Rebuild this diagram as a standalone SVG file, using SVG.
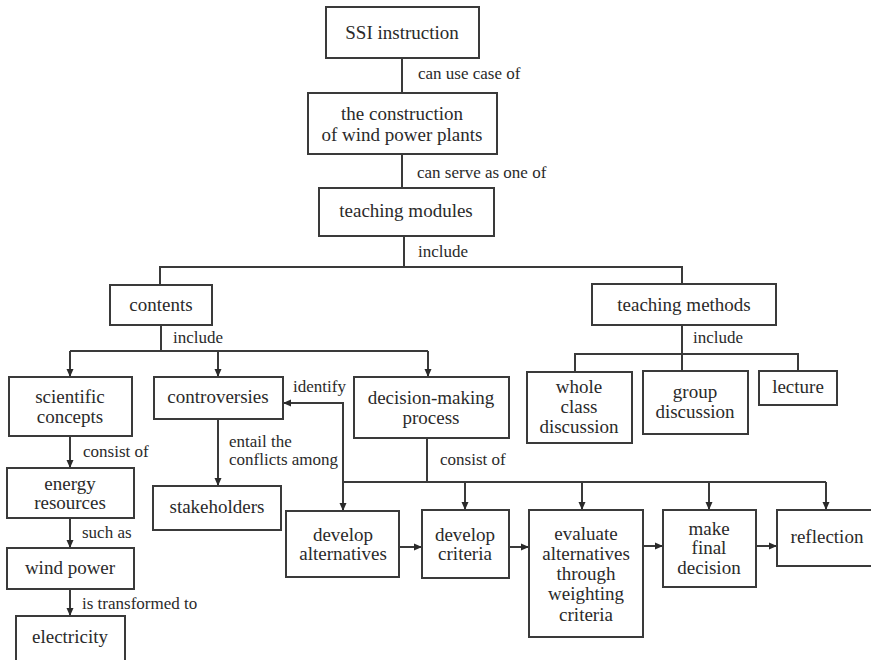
<svg xmlns="http://www.w3.org/2000/svg" width="871" height="660" viewBox="0 0 871 660">
<style>
.box{fill:#fff;stroke:#3a3a3a;stroke-width:2}
.t{font-family:"Liberation Serif","Times New Roman","DejaVu Serif",serif;font-size:19px;fill:#2a2a2a;text-anchor:middle}
.l{font-family:"Liberation Serif","Times New Roman","DejaVu Serif",serif;font-size:17px;fill:#2a2a2a}
.c{fill:none;stroke:#3a3a3a;stroke-width:2}
.a{fill:none;stroke:#3a3a3a;stroke-width:2;marker-end:url(#ah)}
</style>
<defs>
<marker id="ah" markerUnits="userSpaceOnUse" markerWidth="8" markerHeight="8" refX="8" refY="4" orient="auto">
<path d="M0,0.5 L8,4 L0,7.5 Z" fill="#2a2a2a"/>
</marker>
</defs>
<rect width="871" height="660" fill="#fff"/>
<g id="connectors">
<path class="c" d="M402,58V93"/>
<path class="c" d="M402,154V188"/>
<path class="c" d="M404,236V267M160,285V267H682V284"/>
<path class="c" d="M161,325V351M70,351H428"/>
<path class="a" d="M70,351V377"/>
<path class="a" d="M218,351V377"/>
<path class="a" d="M428,351V377"/>
<path class="c" d="M682,325V371M575,372V354H798V371"/>
<path class="a" d="M70,437V468"/>
<path class="a" d="M70,518V548"/>
<path class="a" d="M70,589V616"/>
<path class="a" d="M218,419V486"/>
<path class="c" d="M427,438V482M343,482H826"/>
<path class="a" d="M343,482V403H283"/>
<path class="a" d="M343,482V511"/>
<path class="a" d="M465,482V510"/>
<path class="a" d="M582,482V510"/>
<path class="a" d="M709,482V510"/>
<path class="a" d="M826,482V510"/>
<path class="a" d="M399,547H422"/>
<path class="a" d="M509,547H529"/>
<path class="a" d="M643,546H663"/>
<path class="a" d="M756,546H777"/>
<text class="l" x="418" y="79">can use case of</text>
<text class="l" x="417" y="178">can serve as one of</text>
<text class="l" x="418" y="257">include</text>
<text class="l" x="173" y="343">include</text>
<text class="l" x="693" y="343">include</text>
<text class="l" x="293" y="392">identify</text>
<text class="l" x="83" y="457">consist of</text>
<text class="l" x="82" y="538">such as</text>
<text class="l" x="82" y="609">is transformed to</text>
<text class="l" x="229" y="447">entail the</text>
<text class="l" x="229" y="465">conflicts among</text>
<text class="l" x="440" y="465">consist of</text>
</g>
<g id="ssi"><rect class="box" x="326" y="7" width="153" height="51"/><text class="t" x="402" y="39">SSI instruction</text></g>
<g id="construction"><rect class="box" x="308" y="93" width="189" height="61"/><text class="t" x="402" y="120">the construction</text><text class="t" x="402" y="141">of wind power plants</text></g>
<g id="modules"><rect class="box" x="319" y="188" width="175" height="48"/><text class="t" x="406" y="217">teaching modules</text></g>
<g id="contents"><rect class="box" x="110" y="285" width="102" height="40"/><text class="t" x="161" y="311">contents</text></g>
<g id="methods"><rect class="box" x="592" y="284" width="184" height="41"/><text class="t" x="684" y="311">teaching methods</text></g>
<g id="scientific"><rect class="box" x="9" y="377" width="123" height="59"/><text class="t" x="70" y="403">scientific</text><text class="t" x="70" y="423">concepts</text></g>
<g id="controversies"><rect class="box" x="154" y="377" width="129" height="42"/><text class="t" x="218" y="403">controversies</text></g>
<g id="decision"><rect class="box" x="354" y="377" width="155" height="61"/><text class="t" x="431" y="404">decision-making</text><text class="t" x="431" y="424">process</text></g>
<g id="wholeclass"><rect class="box" x="527" y="372" width="105" height="71"/><text class="t" x="579" y="393">whole</text><text class="t" x="579" y="413">class</text><text class="t" x="579" y="433">discussion</text></g>
<g id="group"><rect class="box" x="643" y="371" width="105" height="63"/><text class="t" x="695" y="398">group</text><text class="t" x="695" y="418">discussion</text></g>
<g id="lecture"><rect class="box" x="759" y="371" width="78" height="34"/><text class="t" x="798" y="393">lecture</text></g>
<g id="energy"><rect class="box" x="7" y="468" width="127" height="50"/><text class="t" x="70" y="490">energy</text><text class="t" x="70" y="509">resources</text></g>
<g id="wind"><rect class="box" x="7" y="548" width="127" height="41"/><text class="t" x="70" y="574">wind power</text></g>
<g id="electricity"><rect class="box" x="16" y="616" width="109" height="52"/><text class="t" x="70" y="643">electricity</text></g>
<g id="stakeholders"><rect class="box" x="153" y="486" width="128" height="44"/><text class="t" x="217" y="513">stakeholders</text></g>
<g id="devalt"><rect class="box" x="286" y="511" width="113" height="66"/><text class="t" x="343" y="541">develop</text><text class="t" x="343" y="560">alternatives</text></g>
<g id="devcrit"><rect class="box" x="422" y="510" width="87" height="68"/><text class="t" x="465" y="541">develop</text><text class="t" x="465" y="560">criteria</text></g>
<g id="evaluate"><rect class="box" x="529" y="510" width="114" height="127"/><text class="t" x="586" y="540">evaluate</text><text class="t" x="586" y="560">alternatives</text><text class="t" x="586" y="580">through</text><text class="t" x="586" y="600">weighting</text><text class="t" x="586" y="621">criteria</text></g>
<g id="final"><rect class="box" x="663" y="510" width="93" height="77"/><text class="t" x="709" y="535">make</text><text class="t" x="709" y="554">final</text><text class="t" x="709" y="574">decision</text></g>
<g id="reflection"><rect class="box" x="777" y="510" width="100" height="56"/><text class="t" x="827" y="543">reflection</text></g>
</svg>
